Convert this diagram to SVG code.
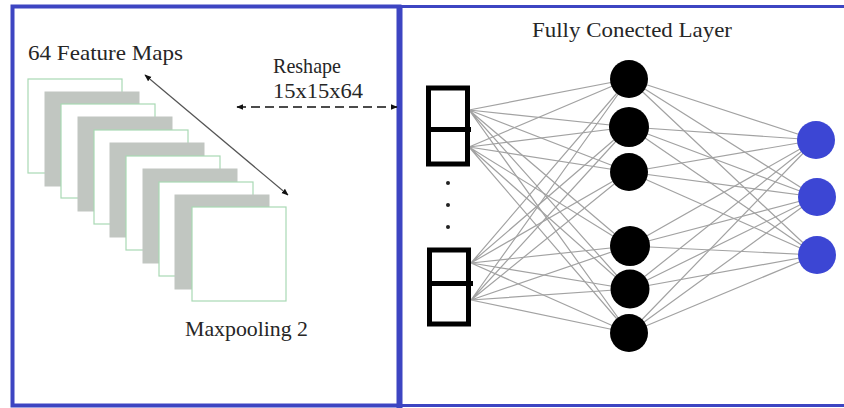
<svg xmlns="http://www.w3.org/2000/svg" width="844" height="408" viewBox="0 0 844 408">
<style>
.lbl{font-family:"Liberation Serif","Times New Roman",serif;font-size:21px;fill:#262626}
.fw{fill:#ffffff;stroke:#a9d9b4;stroke-width:1.2}
.fg{fill:#c1c6c1;stroke:#c1c6c1;stroke-width:1}
.edge{stroke:#a2a2a2;stroke-width:1.2;fill:none}
.hid{fill:#000000}
.out{fill:#3c46d4}
.box{fill:none;stroke:#000000;stroke-width:5}
.frame{fill:none;stroke:#3d45c2}
</style>
<defs>
<marker id="ah" viewBox="0 0 10 10" refX="9" refY="5" markerWidth="7" markerHeight="7" orient="auto-start-reverse" markerUnits="userSpaceOnUse">
<path d="M0,1 L10,5 L0,9 z" fill="#111"/>
</marker>
</defs>
<rect width="844" height="408" fill="#ffffff"/>
<g id="frames">
<rect class="frame" x="12.5" y="6.5" width="387" height="399" stroke-width="4"/>
<rect class="frame" x="400" y="6.5" width="446" height="399" stroke-width="3"/>
<line x1="399.5" y1="5" x2="399.5" y2="408" stroke="#3d45c2" stroke-width="6"/>
</g>
<g id="feature-maps">
<rect class="fw" x="28" y="79" width="94" height="94"/>
<rect class="fg" x="45" y="92" width="94" height="94"/>
<rect class="fw" x="61" y="104" width="94" height="94"/>
<rect class="fg" x="78" y="117" width="94" height="94"/>
<rect class="fw" x="94" y="130" width="94" height="94"/>
<rect class="fg" x="110" y="143" width="94" height="94"/>
<rect class="fw" x="126" y="156" width="94" height="94"/>
<rect class="fg" x="143" y="169" width="94" height="94"/>
<rect class="fw" x="159" y="182" width="94" height="94"/>
<rect class="fg" x="175" y="195" width="94" height="94"/>
<rect class="fw" x="192" y="207" width="94" height="94"/>
</g>
<g id="labels">
<text class="lbl" x="28" y="60" textLength="155" lengthAdjust="spacingAndGlyphs">64 Feature Maps</text>
<text class="lbl" x="273" y="73" textLength="68" lengthAdjust="spacingAndGlyphs">Reshape</text>
<text class="lbl" x="273" y="98" textLength="90" lengthAdjust="spacingAndGlyphs">15x15x64</text>
<text class="lbl" x="185" y="336" textLength="123" lengthAdjust="spacingAndGlyphs">Maxpooling 2</text>
<text class="lbl" x="532" y="37" textLength="200" lengthAdjust="spacingAndGlyphs">Fully Conected Layer</text>
</g>
<g id="connectors">
<line x1="145" y1="75" x2="288" y2="195" stroke="#555" stroke-width="1.2" marker-start="url(#ah)" marker-end="url(#ah)"/>
<line x1="237" y1="107" x2="397" y2="107" stroke="#111" stroke-width="1.5" stroke-dasharray="9,5" marker-start="url(#ah)" marker-end="url(#ah)"/>
<g class="edge">
<path d="M469,110 L629,79 M469,110 L629,127 M469,110 L629,172 M469,110 L629,246 M469,110 L629,289 M469,110 L629,333"/>
<path d="M469,147 L629,79 M469,147 L629,127 M469,147 L629,172 M469,147 L629,246 M469,147 L629,289 M469,147 L629,333"/>
<path d="M471,263 L629,79 M471,263 L629,127 M471,263 L629,172 M471,263 L629,246 M471,263 L629,289 M471,263 L629,333"/>
<path d="M471,300 L629,79 M471,300 L629,127 M471,300 L629,172 M471,300 L629,246 M471,300 L629,289 M471,300 L629,333"/>
<path d="M629,79 L816,140 M629,79 L816,197 M629,79 L816,255"/>
<path d="M629,127 L816,140 M629,127 L816,197 M629,127 L816,255"/>
<path d="M629,172 L816,140 M629,172 L816,197 M629,172 L816,255"/>
<path d="M629,246 L816,140 M629,246 L816,197 M629,246 L816,255"/>
<path d="M629,289 L816,140 M629,289 L816,197 M629,289 L816,255"/>
<path d="M629,333 L816,140 M629,333 L816,197 M629,333 L816,255"/>
</g>
</g>
<g id="input-top">
<rect class="box" x="428.5" y="88" width="39" height="76"/>
<line x1="428" y1="129.5" x2="471" y2="129.5" stroke="#000" stroke-width="5"/>
</g>
<g id="input-dots">
<circle cx="448" cy="183" r="2" fill="#222"/>
<circle cx="448" cy="205" r="2" fill="#222"/>
<circle cx="448" cy="227" r="2" fill="#222"/>
</g>
<g id="input-bottom">
<rect class="box" x="429.5" y="250" width="39" height="74"/>
<line x1="429" y1="283.5" x2="473" y2="283.5" stroke="#000" stroke-width="5"/>
</g>
<g id="h1"><circle class="hid" cx="629" cy="79" r="19"/></g>
<g id="h2"><circle class="hid" cx="629" cy="127" r="20"/></g>
<g id="h3"><circle class="hid" cx="629" cy="172" r="19"/></g>
<g id="h4"><circle class="hid" cx="630" cy="246" r="20"/></g>
<g id="h5"><circle class="hid" cx="630" cy="289" r="19.5"/></g>
<g id="h6"><circle class="hid" cx="629" cy="333" r="19"/></g>
<g id="o1"><circle class="out" cx="816" cy="140" r="19"/></g>
<g id="o2"><circle class="out" cx="817" cy="197" r="19"/></g>
<g id="o3"><circle class="out" cx="817" cy="255" r="19"/></g>
</svg>
